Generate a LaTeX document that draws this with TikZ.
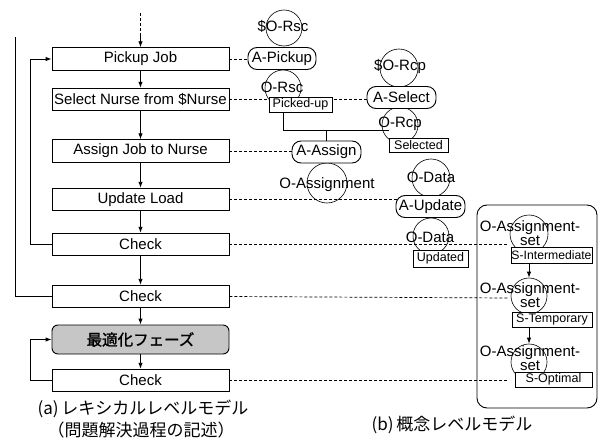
\documentclass[tikz,border=0pt]{standalone}
\usepackage{fontspec}
\setmainfont{Liberation Sans}
\newfontfamily\cjk{Noto Sans CJK JP}
\newfontfamily\cjkb[FakeBold=1.5]{Noto Sans CJK JP}
\usetikzlibrary{arrows.meta,calc}
\begin{document}
\begin{tikzpicture}[x=1pt,y=-1pt,
  lbox/.style={draw,fill=white,line width=0.9pt,minimum width=177pt,minimum height=22.5pt,inner sep=0pt,font=\fontsize{15}{17}\selectfont},
  abox/.style={draw,fill=white,line width=0.9pt,rounded corners=9pt,minimum width=69pt,minimum height=22pt,inner sep=0pt,font=\fontsize{15}{17}\selectfont},
  sbox/.style={draw,fill=white,line width=0.9pt,minimum height=15pt,inner sep=0pt,font=\fontsize{12.5}{14}\selectfont},
  circ/.style={draw,circle,line width=0.6pt,inner sep=0pt},
  clab/.style={font=\fontsize{15}{14}\selectfont,inner sep=0pt,align=center},
  dl/.style={dash pattern=on 3pt off 2pt,line width=0.7pt},
  ln/.style={line width=0.9pt},
  arr/.style={ln,-{Latex[length=6pt,width=4.5pt]}},
  captxt/.style={font=\cjk\fontsize{17}{20}\selectfont,inner sep=0pt},
]
\useasboundingbox (0,0) rectangle (602,441);

% big container
\node[draw,line width=0.9pt,rounded corners=10pt,minimum width=120pt,minimum height=203pt,inner sep=0pt] (bb) at (537,306.5) {};

% circles
\node[circ,minimum size=36pt] (k1) at (284,28) {};
\node[circ,minimum size=36pt] (k2) at (283,88) {};
\node[circ,minimum size=38pt] (k3) at (399,68) {};
\node[circ,minimum size=36pt] (k4) at (400,125) {};
\node[circ,minimum size=40pt] (k5) at (327,183) {};
\node[circ,minimum size=38pt] (k6) at (431,178) {};
\node[circ,minimum size=36pt] (k7) at (431,236) {};
\node[circ,minimum size=38pt] (k8) at (529,234) {};
\node[circ,minimum size=36pt] (k9) at (529,296) {};
\node[circ,minimum size=36pt] (k10) at (529,362) {};

% left boxes
\node[lbox] (pj) at (140.5,59) {Pickup Job};
\node[lbox] (sn) at (140.5,99.5) {Select Nurse from \$Nurse};
\node[lbox] (aj) at (140.5,151) {Assign Job to Nurse};
\node[lbox] (ul) at (140.5,199.5) {Update Load};
\node[lbox] (c1) at (140.5,244.5) {Check};
\node[lbox] (c2) at (140.5,296.5) {Check};
\node[lbox,fill=gray!45,rounded corners=6pt,minimum height=29pt,font=\cjkb\fontsize{15.5}{17}\selectfont] (opt) at (140.5,339.5) {最適化フェーズ};
\node[lbox] (c3) at (140.5,380.5) {Check};

% top entry
\coordinate (t0) at (140.5,13);
\coordinate (t1) at (140.5,33);
\draw[dl] (t0) -- (t1);
\draw[arr] (t1) -- (pj.north);

\foreach \a/\b in {pj/sn,sn/aj,aj/ul,ul/c1,c1/c2,c2/opt,opt/c3}
  \draw[arr] (\a.south) -- (\b.north);

% loops
\coordinate (L1) at (30,0);
\coordinate (L2) at (15,37);
\draw[arr] (c1.west) -- (c1.west -| L1) -- (L1 |- pj.west) -- (pj.west);
\draw[ln] (c2.west) -| (L2);
\draw[arr] (c3.west) -- (c3.west -| L1) -- (L1 |- opt.west) -- (opt.west);

% dashed links
\coordinate (e1) at (509,0);
\draw[dl] (pj.east) -- (pj.east -| k1.west) -- +(4,0);
\draw[dl] (sn.east) -- (sn.east -| k3.west);
\draw[dl] (aj.east) -- (aj.east -| k5.west);
\draw[dl] (ul.east) -- (ul.east -| k7.west);
\draw[dl] (c1.east) -- (c1.east -| e1);
\draw[dl] (c2.east) -- ($(c2.east -| e1)+(0,1.5)$);
\draw[dl] (c3.east) -- (c3.east -| e1);

% tree connector
\coordinate (j1) at (283,130);
\coordinate (j2) at (389,130);
\draw[ln] (j1 |- 300,112) -- (j1) -- (j2);
\draw[ln] (j1 -| 326.5,0) -- (326.5,141);

% rounded action boxes
\node[abox,minimum width=68pt] (ap) at (282,58.5) {A-Pickup};
\node[abox] (as) at (401.5,97.5) {A-Select};
\node[abox] (aa) at (326.5,152) {A-Assign};
\node[abox] (au) at (430.5,206.5) {A-Update};

% state boxes
\node[sbox,minimum width=63pt] (pu) at (300.5,104.5) {Picked-up};
\node[sbox,minimum width=59pt,minimum height=14pt] (se) at (418.5,145) {Selected};
\node[sbox,minimum width=55pt,minimum height=17pt] (up) at (440.5,258.5) {Updated};
\node[sbox,minimum width=81pt,minimum height=16pt,font=\fontsize{12.2}{14}\selectfont] (si) at (551.5,255) {S-Intermediate};
\node[sbox,minimum width=80pt] (st) at (552,319.5) {S-Temporary};
\node[sbox,minimum width=77pt] (so) at (553.5,379.5) {S-Optimal};

% arrows in container
\draw[arr] (si.south -| k9.north) -- (k9.north);
\draw[arr] (st.south -| k10.north) -- (k10.north);

% circle labels
\node[clab] (l1) at (283,26) {\$O-Rsc};
\node[clab] (l2) at (282,87) {O-Rsc};
\node[clab] (l3) at (400,67) {\$O-Rcp};
\node[clab] (l4) at (400,124) {O-Rcp};
\node[clab] (l5) at (327,185) {O-Assignment};
\node[clab] (l6) at (431,177) {O-Data};
\node[clab] (l7) at (430,237) {O-Data};
\node[clab] (l8) at (530,233.5) {O-Assignment-\\set};
\node[clab] (l9) at (530,295.5) {O-Assignment-\\set};
\node[clab] (l10) at (530,358.5) {O-Assignment-\\set};

% captions
\node[captxt] (ca1) at (143,409) {(a)\,レキシカルレベルモデル};
\node[captxt] (ca2) at (141,430) {（問題解決過程の記述）};
\node[captxt] (cb) at (452,425) {(b)\,概念レベルモデル};
\end{tikzpicture}
\end{document}
